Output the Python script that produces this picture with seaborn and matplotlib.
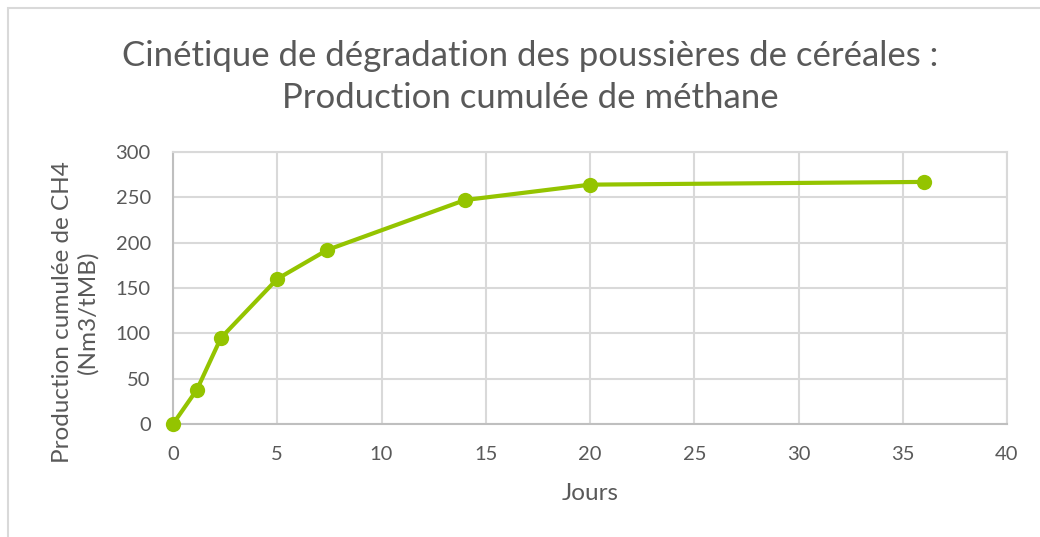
import numpy as np
import pandas as pd
import matplotlib
matplotlib.use('Agg')
import matplotlib.pyplot as plt
import seaborn as sns
from matplotlib.patches import Rectangle

jours = [0, 1.15, 2.3, 5, 7.4, 14, 20, 36]
production = [0, 38, 95, 160, 192, 247, 264, 267]
x_ticks = [0, 5, 10, 15, 20, 25, 30, 35, 40]
y_ticks = [0, 50, 100, 150, 200, 250, 300]

df = pd.DataFrame({'Jours': jours, 'Production': production})

sns.set_theme(style='white')
plt.rcParams['font.family'] = ['Lato', 'DejaVu Sans']
txt = '#595959'
vert = '#94c400'

W, H = 1040, 537
fig = plt.figure(figsize=(W / 100, H / 100), dpi=100)
fig.patches.append(Rectangle((8 / W, -0.1), 1.2, (H - 8) / H + 0.1, transform=fig.transFigure,
                             fill=False, edgecolor='#d9d9d9', linewidth=1.5))

ax = fig.add_axes([173 / W, 1 - 424 / H, (1007 - 173) / W, (424 - 152) / H])
sns.lineplot(data=df, x='Jours', y='Production', ax=ax, color=vert, linewidth=3,
             marker='o', markersize=11, markeredgewidth=0, clip_on=False, zorder=5)

ax.set_xlim(0, 40)
ax.set_ylim(0, 300)
ax.set_xticks(x_ticks)
ax.set_yticks(y_ticks)
ax.grid(True, color='#d9d9d9', linewidth=1.5)
for s in ['top', 'right']:
    ax.spines[s].set_color('#d9d9d9')
    ax.spines[s].set_linewidth(1.5)
for s in ['left', 'bottom']:
    ax.spines[s].set_color('#bfbfbf')
    ax.spines[s].set_linewidth(1.5)
ax.tick_params(axis='both', colors=txt, labelsize=14.5, length=0, pad=16)
ax.set_xlabel('')
ax.set_ylabel('')

fig.text(590 / W, 1 - 494 / H, 'Jours', ha='center', va='center', fontsize=17.5, color=txt)
fig.text(75 / W, 1 - 312 / H, 'Production cumulée de CH4\n(Nm3/tMB)', ha='center', va='center',
         rotation=90, fontsize=17.5, color=txt, linespacing=1.2)

fig.text(530 / W, 1 - 77 / H, 'Cinétique de dégradation des poussières de céréales :\nProduction cumulée de méthane',
         ha='center', va='center', fontsize=25, color=txt, linespacing=1.4)

fig.savefig('out.png', dpi=100)
